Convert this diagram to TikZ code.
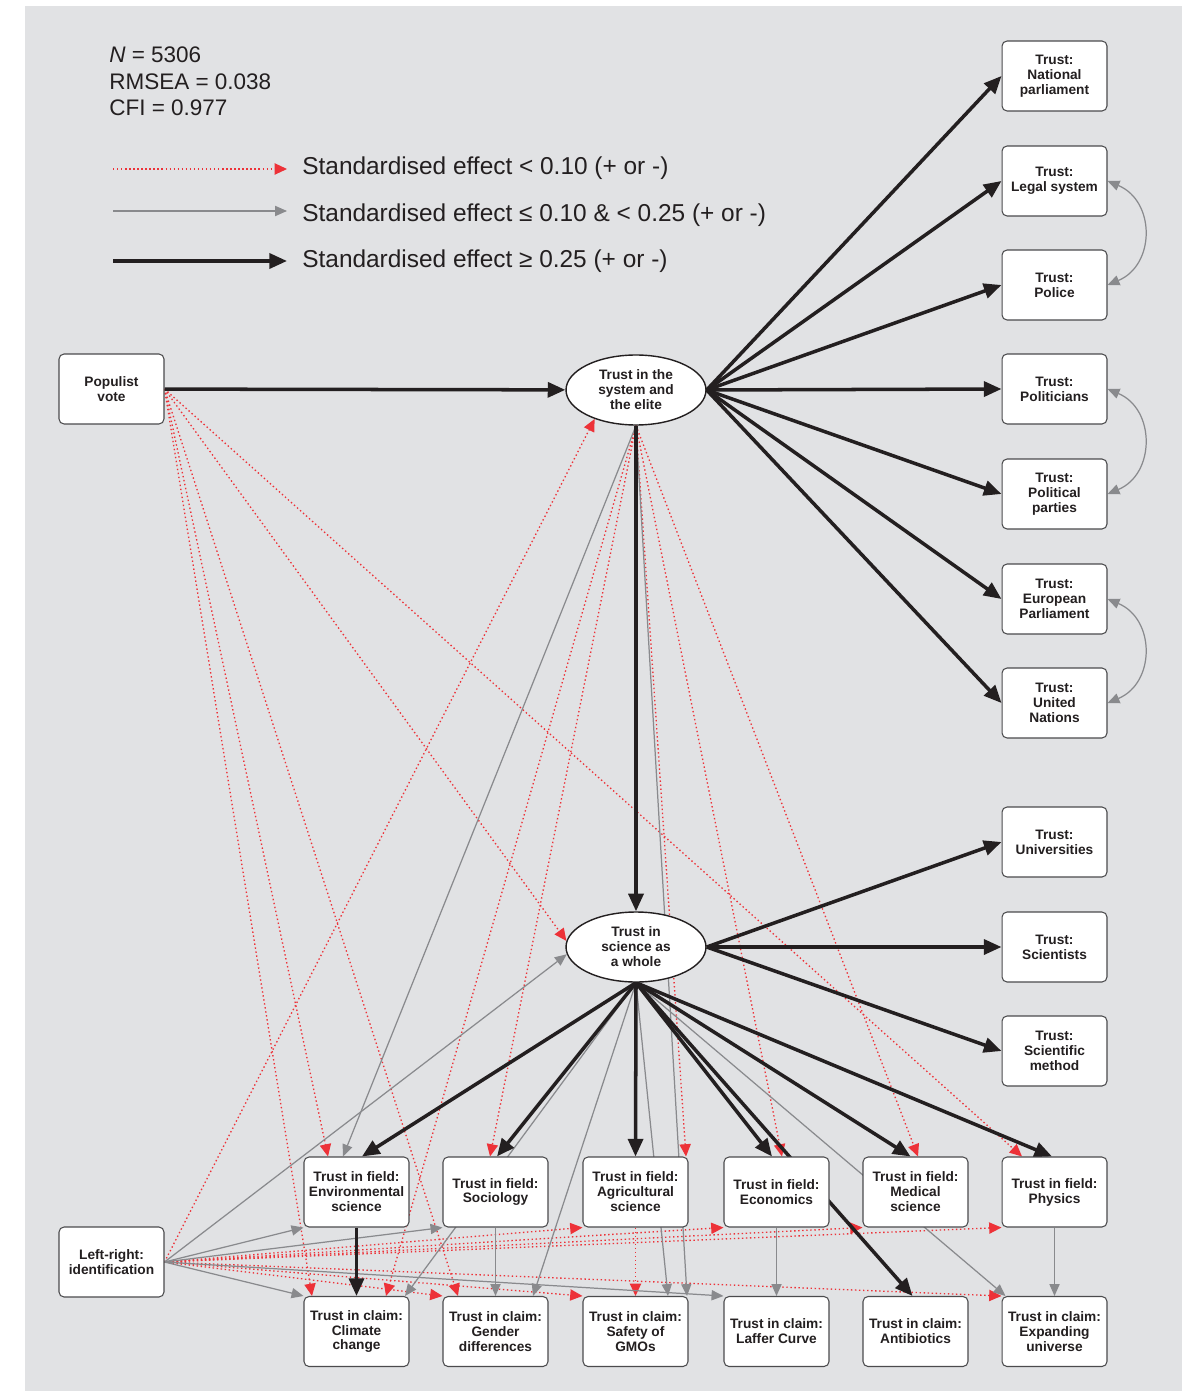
\documentclass[tikz,border=0pt]{standalone}
\usepackage{fontspec}
\setmainfont{Liberation Sans}
\usetikzlibrary{calc,arrows.meta,shapes.geometric}

\definecolor{bgGray}{RGB}{225,226,228}
\definecolor{effRed}{RGB}{237,50,56}
\definecolor{effGray}{RGB}{137,138,141}
\definecolor{effBlack}{RGB}{35,31,32}
\definecolor{boxLine}{RGB}{75,75,77}

\pgfdeclarelayer{canvas}
\pgfdeclarelayer{edges}
\pgfsetlayers{canvas,edges,main}

\tikzset{
  varbox/.style={draw=boxLine,line width=0.6pt,fill=white,rounded corners=0.1cm,
    minimum width=2.1cm,minimum height=1.4cm,inner sep=1pt,align=center,text=effBlack,
    font=\fontsize{7.8}{8.5}\selectfont\bfseries},
  latent/.style={ellipse,draw=effBlack,line width=0.8pt,fill=white,
    minimum width=2.8cm,minimum height=1.4cm,inner sep=0pt,align=center,text=effBlack,
    font=\fontsize{7.8}{8.5}\selectfont\bfseries},
  weak/.style={draw=effRed,line width=0.75pt,dash pattern=on 0.8pt off 1.5pt,
    -{Triangle[length=7pt,width=6.4pt]}},
  moderate/.style={draw=effGray,line width=0.7pt,-{Triangle[length=6.8pt,width=5.8pt]}},
  strong/.style={draw=effBlack,line width=2pt,-{Triangle[length=10pt,width=8.5pt]}},
  covar/.style={draw=effGray,line width=0.7pt,
    {Triangle[length=6.8pt,width=5.8pt]}-{Triangle[length=6.8pt,width=5.8pt]}},
  legtext/.style={anchor=west,inner sep=0pt,text=effBlack,font=\fontsize{13.9}{16}\selectfont},
  stattext/.style={anchor=west,inner sep=0pt,text=effBlack,font=\fontsize{12.8}{15}\selectfont}
}

\begin{document}
\begin{tikzpicture}[x=0.02cm,y=-0.02cm]

\begin{pgfonlayer}{canvas}
\fill[bgGray] (25,6) rectangle (1182,1391);
\end{pgfonlayer}
\useasboundingbox (0,0) rectangle (1182,1391);

% fit statistics and legend
\node[stattext] (nVal) at (109,55) {\textit{N} = 5306};
\node[stattext] (rmsea) at (109,82) {RMSEA = 0.038};
\node[stattext] (cfi) at (109,108) {CFI = 0.977};

\node[legtext] (legWeak) at (302,168) {Standardised effect < 0.10 (+ or -)};
\node[legtext] (legMod) at (302,215) {Standardised effect ≤ 0.10 \& < 0.25 (+ or -)};
\node[legtext] (legStrong) at (302,261) {Standardised effect ≥ 0.25 (+ or -)};
\coordinate (legWeakA) at (113,169);   \coordinate (legWeakB) at (287,169);
\coordinate (legModA) at (113,211);    \coordinate (legModB) at (287,211);
\coordinate (legStrongA) at (113,261); \coordinate (legStrongB) at (287,261);
\draw[weak] (legWeakA) -- (legWeakB);
\draw[moderate] (legModA) -- (legModB);
\draw[strong] (legStrongA) -- (legStrongB);

% variables
\node[varbox] (popVote) at (111.5,389) {Populist\\vote};
\node[varbox] (leftRight) at (111.5,1262) {Left-right:\\identification};
\node[latent] (elite) at (636,390) {Trust in the\\system and\\the elite};
\node[latent] (science) at (636,947) {Trust in\\science as\\a whole};

\foreach \nm/\yy/\txt in {tNat/76/{Trust:\\National\\parliament}, tLeg/181/{Trust:\\Legal system},
  tPol/285/{Trust:\\Police}, tPoli/389/{Trust:\\Politicians}, tParty/494/{Trust:\\Political\\parties},
  tEP/599/{Trust:\\European\\Parliament}, tUN/703/{Trust:\\United\\Nations},
  tUni/842/{Trust:\\Universities}, tSci/947/{Trust:\\Scientists}, tMeth/1051/{Trust:\\Scientific\\method}}
  \node[varbox] (\nm) at (1054.5,\yy) {\txt};

\foreach \nm/\xx/\txt in {fEnv/356.5/{Trust in field:\\Environmental\\science}, fSoc/495.5/{Trust in field:\\Sociology},
  fAgri/635.5/{Trust in field:\\Agricultural\\science}, fEcon/776.5/{Trust in field:\\Economics},
  fMed/915.5/{Trust in field:\\Medical\\science}, fPhys/1054.5/{Trust in field:\\Physics}}
  \node[varbox] (\nm) at (\xx,1192) {\txt};

\foreach \nm/\xx/\txt in {cClim/356.5/{Trust in claim:\\Climate\\change}, cGend/495.5/{Trust in claim:\\Gender\\differences},
  cGmo/635.5/{Trust in claim:\\Safety of\\GMOs}, cLaff/776.5/{Trust in claim:\\Laffer Curve},
  cAnti/915.5/{Trust in claim:\\Antibiotics}, cUniv/1054.5/{Trust in claim:\\Expanding\\universe}}
  \node[varbox] (\nm) at (\xx,1331.5) {\txt};

\begin{pgfonlayer}{edges}
% effects < 0.10
\draw[weak] (popVote.east) -- (science.175);
\draw[weak] (popVote.east) -- ($(fEnv.north)+(-28.5,0)$);
\draw[weak] (popVote.east) -- ($(fPhys.north)+(-32.5,0)$);
\draw[weak] (popVote.east) -- ($(cClim.north)+(-44.5,0)$);
\draw[weak] (popVote.east) -- ($(cGend.north)+(-37.5,0)$);
\draw[weak] (elite.south) -- ($(fSoc.north)+(-5.5,0)$);
\draw[weak] (elite.south) -- ($(fAgri.north)+(50.5,0)$);
\draw[weak] (elite.south) -- ($(fEcon.north)+(5.5,0)$);
\draw[weak] (elite.south) -- ($(fMed.north)+(2.5,0)$);
\draw[weak] (elite.south) -- ($(cClim.north)+(29.5,0)$);
\draw[weak] (fAgri) -- (cGmo);
\draw[weak] (leftRight.east) -- (elite.215);
\foreach \nm in {fAgri,fEcon,fMed,fPhys}
  \draw[weak] (leftRight.east) -- (\nm.south west);
\foreach \nm in {cGend,cGmo,cUniv}
  \draw[weak] (leftRight.east) -- (\nm.north west);

% effects 0.10 - 0.25
\draw[moderate] (elite.south) -- ($(fEnv.north)+(-13.5,0)$);
\draw[moderate] (elite.south) -- ($(cGmo.north)+(51.5,0)$);
\draw[moderate] (science.south) -- ($(cClim.north)+(48.5,0)$);
\draw[moderate] (science.south) -- ($(cGend.north)+(37.5,0)$);
\draw[moderate] (science.south) -- ($(cGmo.north)+(32.5,0)$);
\draw[moderate] (science.south) -- ($(cUniv.north west)+(4,0)$);
\draw[moderate] (fSoc) -- (cGend);
\draw[moderate] (fEcon) -- (cLaff);
\draw[moderate] (fPhys) -- (cUniv);
\draw[moderate] (leftRight.east) -- (science.186);
\foreach \nm in {fEnv,fSoc}
  \draw[moderate] (leftRight.east) -- (\nm.south west);
\foreach \nm in {cClim,cLaff}
  \draw[moderate] (leftRight.east) -- (\nm.north west);
\draw[covar] (tLeg.east) .. controls +(48,20) and +(48,-20) .. (tPol.east);
\draw[covar] (tPoli.east) .. controls +(48,20) and +(48,-20) .. (tParty.east);
\draw[covar] (tEP.east) .. controls +(48,20) and +(48,-20) .. (tUN.east);

% effects >= 0.25
\draw[strong] (popVote) -- (elite);
\foreach \nm in {tNat,tLeg,tPol,tPoli,tParty,tEP,tUN}
  \draw[strong] (elite.east) -- (\nm.west);
\draw[strong] (elite) -- (science);
\foreach \nm in {tUni,tSci,tMeth}
  \draw[strong] (science.east) -- (\nm.west);
\draw[strong] (science.south) -- ($(fEnv.north)+(5.5,0)$);
\draw[strong] (science.south) -- ($(fSoc.north)+(1.5,0)$);
\draw[strong] (science.south) -- (fAgri.north);
\draw[strong] (science.south) -- ($(fEcon.north)+(-4.5,0)$);
\draw[strong] (science.south) -- ($(fMed.north)+(-5,0)$);
\draw[strong] (science.south) -- ($(fPhys.north)+(-2.5,0)$);
\draw[strong] (science.south) -- ($(cAnti.north)+(-3,0)$);
\draw[strong] (fEnv) -- (cClim);
\end{pgfonlayer}

\end{tikzpicture}
\end{document}
